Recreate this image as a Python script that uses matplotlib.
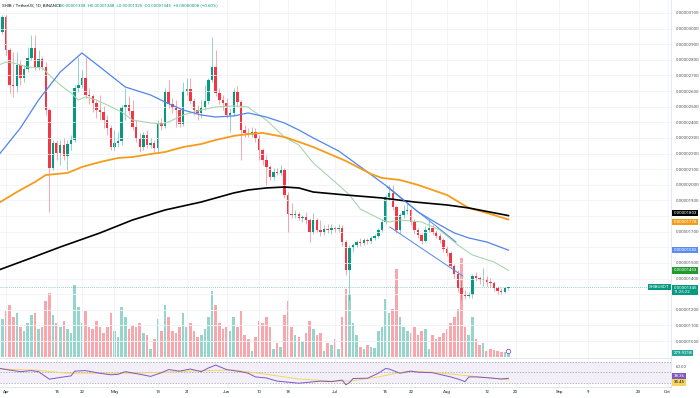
import matplotlib.pyplot as plt
import numpy as np

plt.rcParams['font.family'] = ['Roboto', 'DejaVu Sans']

# SHIB/USDT daily candles, prices in 1e-8 USDT, day 0 = 1 Apr 2024 (first candle 31 Mar)
first_open = 2978
close = [3074, 2863, 2639, 2633, 2767, 2684, 2741, 2812, 2876, 2754, 2805, 2754, 2479, 2108, 2268,
         2204, 2255, 2185, 2262, 2287, 2620, 2639, 2684, 2575, 2569, 2524, 2479, 2466, 2415, 2364,
         2242, 2268, 2281, 2498, 2511, 2473, 2370, 2300, 2242, 2319, 2255, 2268, 2236, 2396, 2377,
         2594, 2517, 2492, 2479, 2389, 2601, 2613, 2537, 2479, 2460, 2498, 2537, 2671, 2754, 2588,
         2543, 2524, 2447, 2460, 2594, 2530, 2351, 2332, 2325, 2338, 2300, 2223, 2159, 2114, 2050,
         2082, 2076, 2095, 1935, 1813, 1807, 1813, 1788, 1794, 1775, 1698, 1775, 1711, 1698, 1717,
         1711, 1724, 1717, 1724, 1634, 1455, 1596, 1615, 1634, 1628, 1647, 1641, 1660, 1673, 1711,
         1762, 1922, 1948, 1858, 1711, 1807, 1833, 1839, 1762, 1711, 1679, 1641, 1711, 1724, 1698,
         1673, 1647, 1589, 1564, 1481, 1429, 1340, 1295, 1289, 1295, 1417, 1404, 1391, 1397, 1378,
         1372, 1340, 1321, 1314, 1338, 1345]
high = [3087, 3087, 2876, 2850, 2850, 2799, 2767, 2882, 2959, 2959, 2863, 2825, 2786, 2492, 2287,
        2281, 2287, 2300, 2287, 2319, 2639, 2818, 2735, 2818, 2620, 2581, 2543, 2575, 2505, 2447,
        2383, 2351, 2338, 2511, 2620, 2569, 2543, 2415, 2332, 2338, 2351, 2300, 2287, 2415, 2428,
        2620, 2671, 2556, 2543, 2492, 2658, 2684, 2684, 2556, 2511, 2543, 2639, 2684, 2946, 2863,
        2620, 2575, 2556, 2492, 2620, 2633, 2543, 2383, 2364, 2370, 2364, 2319, 2236, 2191, 2127,
        2108, 2108, 2127, 2108, 1954, 1884, 1839, 1826, 1807, 1826, 1788, 1820, 1788, 1775, 1743,
        1749, 1749, 1737, 1749, 1743, 1647, 1615, 1628, 1647, 1660, 1660, 1660, 1673, 1685, 1724,
        1781, 1935, 1999, 1999, 1871, 1820, 1871, 1884, 1852, 1781, 1724, 1692, 1737, 1775, 1743,
        1711, 1692, 1660, 1609, 1577, 1493, 1455, 1391, 1327, 1314, 1429, 1442, 1417, 1468, 1417,
        1404, 1385, 1353, 1340, 1346, 1348]
low = [2965, 2831, 2588, 2562, 2594, 2639, 2658, 2722, 2799, 2735, 2735, 2735, 2447, 1826, 2095,
       2159, 2127, 2159, 2095, 2223, 2274, 2594, 2620, 2556, 2517, 2466, 2428, 2415, 2364, 2319,
       2223, 2223, 2242, 2255, 2415, 2447, 2351, 2274, 2210, 2223, 2236, 2236, 2210, 2204, 2351,
       2364, 2492, 2460, 2370, 2370, 2377, 2575, 2517, 2447, 2415, 2428, 2479, 2517, 2658, 2569,
       2517, 2479, 2428, 2338, 2441, 2505, 2159, 2306, 2306, 2306, 2274, 2159, 2127, 1999, 2031,
       2031, 2063, 2063, 1916, 1698, 1788, 1788, 1775, 1762, 1749, 1634, 1685, 1698, 1673, 1679,
       1692, 1685, 1698, 1698, 1609, 1423, 1263, 1570, 1602, 1609, 1615, 1621, 1628, 1647, 1660,
       1698, 1749, 1903, 1839, 1692, 1692, 1788, 1813, 1743, 1685, 1660, 1621, 1634, 1698, 1679,
       1660, 1628, 1570, 1545, 1468, 1404, 1314, 1263, 1269, 1276, 1276, 1385, 1365, 1353, 1353,
       1346, 1321, 1301, 1301, 1308, 1325]
volume = [2660, 3220, 3640, 2800, 3080, 2100, 1820, 2380, 2940, 3080, 1960, 2100, 3920, 4480, 2940,
          2380, 2100, 2520, 1960, 1680, 5040, 3500, 2380, 3220, 2100, 1960, 2520, 2100, 1680, 2100,
          3080, 1820, 1400, 3500, 2800, 1960, 2240, 2100, 2380, 1680, 1540, 560, 1260, 2660, 1820,
          3640, 2800, 1820, 1680, 2100, 3080, 2100, 2380, 1820, 1400, 1540, 1960, 2800, 4620, 3640,
          2380, 1960, 2100, 1820, 2800, 2100, 3220, 1540, 1260, 420, 1400, 2520, 2380, 2800, 2100,
          560, 980, 700, 2940, 3920, 2100, 1540, 1400, 1120, 1680, 2520, 1960, 1540, 1680, 420,
          980, 840, 1260, 560, 2800, 4760, 4340, 2380, 1540, 700, 560, 840, 700, 630, 1820,
          2100, 4060, 3080, 3360, 6160, 2800, 2100, 1820, 1680, 2100, 1540, 1820, 1960, 560, 1540,
          1260, 1400, 1680, 1960, 2380, 2800, 3360, 6930, 2100, 1540, 2800, 1260, 840, 980, 420,
          560, 490, 420, 350, 350, 279.921]  # billions

# moving averages
ma20_days = [-2, 0, 2, 6, 10, 12, 15, 18, 20, 22, 25, 28, 32, 35, 40, 43, 45, 49, 54, 58,
             63, 67, 68, 72, 77, 81, 85, 92, 95, 98, 104, 106, 109, 115, 120, 125, 129, 135, 139]
ma20 = [2767, 2786, 2780, 2754, 2748, 2703, 2639, 2588, 2543, 2562, 2543, 2511, 2466, 2415, 2396,
        2389, 2402, 2447, 2479, 2498, 2505, 2498, 2479, 2415, 2306, 2255, 2140, 1999, 1935, 1845,
        1775, 1762, 1775, 1762, 1711, 1615, 1551, 1506, 1453]
ma50_days = [-2, 4, 9, 15, 21, 26, 33, 40, 44, 49, 54, 58, 63, 67, 72, 77, 81, 85, 92, 100,
             106, 114, 120, 124, 128, 133, 139]
ma50 = [2191, 2364, 2543, 2722, 2844, 2754, 2626, 2575, 2530, 2479, 2447, 2434, 2441, 2460, 2434,
        2396, 2351, 2300, 2217, 2082, 1980, 1826, 1743, 1692, 1660, 1634, 1582]
ma100_days = [-2, 3, 8, 11, 17, 21, 26, 31, 35, 40, 44, 49, 54, 58, 63, 67, 71, 77, 81, 85,
              94, 101, 104, 109, 114, 122, 128, 133, 139]
ma100 = [1884, 1954, 2018, 2063, 2076, 2114, 2146, 2172, 2178, 2197, 2210, 2242, 2261, 2287, 2313,
         2325, 2332, 2306, 2275, 2242, 2153, 2069, 2044, 2031, 1999, 1935, 1852, 1820, 1778]
ma200_days = [-2, 7, 15, 26, 35, 44, 54, 63, 67, 72, 77, 81, 85, 94, 104, 113, 122, 128, 139]
ma200 = [1455, 1532, 1602, 1692, 1775, 1839, 1890, 1948, 1967, 1980, 1986, 1980, 1954, 1935, 1916,
         1890, 1871, 1852, 1803]

# drawn descending channel
chan_upper_days = [105.4, 124.5]
chan_upper = [1986, 1634]
chan_lower_days = [106.2, 126.4]
chan_lower = [1730, 1416]

# RSI and its moving average
rsi_days = [-2, 1, 4, 7, 9, 12, 15, 18, 19, 22, 26, 29, 31, 33, 37, 40, 43, 45, 48, 51,
            54, 56, 58, 61, 65, 67, 69, 72, 75, 78, 81, 84, 87, 90, 93, 94, 95, 96, 100, 103,
            105, 106, 109, 112, 114, 118, 123, 125, 127, 128, 130, 134, 137, 139]
rsi = [57.6, 54, 51, 53, 51, 36.7, 40, 43, 52, 53, 48, 45, 46, 51, 46, 42, 49, 55, 52, 56,
       51, 58, 63.5, 55, 51, 48, 41, 39, 33, 31, 29, 31, 33, 32, 35, 26, 30, 38, 38.5, 48,
       57, 56, 48, 52, 50, 49, 41, 37, 32, 41, 41, 39, 37, 38.36]
rsi_ma_days = [-2, 8, 17, 26, 35, 44, 54, 63, 72, 81, 90, 95, 103, 111, 118, 128, 137, 139]
rsi_ma = [56, 54, 48, 48, 48, 50, 53, 54, 46, 37, 33, 33, 41, 52, 50, 43, 37, 35.45]

tick_days = [0, 14, 21, 30, 42, 50, 61, 70, 78, 91, 105, 112, 122, 133, 141, 153, 161, 175, 183]
tick_labels = ['Apr', '15', '22', 'May', '13', '21', 'Jun', '10', '18', 'Jul', '15', '22',
               'Aug', '12', '20', 'Sep', '9', '23', 'Oct']
price_ticks = list(range(1000, 3200, 100))
hidden_ticks = [1300, 1600, 1800]  # covered by the value tags

GREEN, RED = '#089981', '#f23645'
TXT = '#131722'
GRID = '#f0f3fa'
FS = 3.2

W, H = 700, 398


def px_rect(x0, y0, x1, y1):
    return [x0 / W, 1 - y1 / H, (x1 - x0) / W, (y1 - y0) / H]


fig = plt.figure(figsize=(7, 3.98), dpi=100)
ax_vol = fig.add_axes(px_rect(0, 0, 671, 357))
ax = fig.add_axes(px_rect(0, 0, 671, 357), sharex=ax_vol)
ax.patch.set_visible(False)
ax_rsi = fig.add_axes(px_rect(0, 358, 671, 387), sharex=ax_vol)

days = np.arange(-1, len(close) - 1)
c = np.array(close, dtype=float)
o = np.array([first_open] + close[:-1], dtype=float)
up = c >= o

# volume
ax_vol.bar(days, volume, width=0.72, color=np.where(up, '#95d5cb', '#f8a8ad'), linewidth=0)
ax_vol.set_ylim(0, 357 * 70)
ax_vol.axis('off')
ax_vol.scatter([days[-1]], [volume[-1] + 150], s=10, facecolor='white', edgecolor='#7e57c2',
               linewidth=0.6, zorder=5)

# candles
ax.vlines(days, low, high, colors=np.where(up, GREEN, RED), linewidth=0.55, alpha=0.55)
ax.bar(days, np.maximum(np.abs(c - o), 4), bottom=np.minimum(o, c), width=0.68,
       color=np.where(up, GREEN, RED), linewidth=0)

ax.plot(ma20_days, ma20, color='#a9d6aa', lw=0.8)
ax.plot(ma50_days, ma50, color='#4f86ec', lw=0.9)
ax.plot(ma100_days, ma100, color='#f59c1a', lw=1.3)
ax.plot(ma200_days, ma200, color='#000000', lw=1.2)
ax.plot(chan_upper_days, chan_upper, color='#4f86ec', lw=0.7)
ax.plot(chan_lower_days, chan_lower, color='#4f86ec', lw=0.7)

ax.axhline(close[-1], color=GREEN, lw=0.6, ls=(0, (1, 1.5)), alpha=0.6)

ax.set_xlim(-1.66, 183.96)
ax.set_ylim(898, 3183)
ax.set_xticks(tick_days)
ax.set_yticks(price_ticks)
ax.set_yticklabels(['' if v in hidden_ticks else f"{v * 1e-8:.8f}" for v in price_ticks])
ax.yaxis.tick_right()
ax.tick_params(axis='y', length=0, labelsize=FS, labelcolor='#50535e', pad=3.6)
ax.tick_params(axis='x', length=0, labelbottom=False)
ax.grid(color=GRID, lw=0.6)
for side in ['left', 'top', 'bottom']:
    ax.spines[side].set_visible(False)
ax.spines['right'].set_color('#e0e3eb')
ax.spines['right'].set_linewidth(0.6)


def price_tag(axis, value, text, face, fg='white', dy=0.0):
    axis.annotate(text, xy=(1, value), xycoords=('axes fraction', 'data'),
                  xytext=(1.8, dy), textcoords='offset points', ha='left', va='center',
                  fontsize=FS, color=fg, annotation_clip=False, linespacing=1.1,
                  bbox=dict(boxstyle='square,pad=0.28', fc=face, ec='none'))


price_tag(ax, ma200[-1], f"{ma200[-1] * 1e-8:.8f}", '#000000', dy=1.7)
price_tag(ax, ma100[-1], f"{ma100[-1] * 1e-8:.8f}", '#f59c1a', dy=-1.7)
price_tag(ax, ma50[-1], f"{ma50[-1] * 1e-8:.8f}", '#5b8def')
price_tag(ax, ma20[-1], f"{ma20[-1] * 1e-8:.8f}", '#1f9a2e')
price_tag(ax, close[-1], f"{close[-1] * 1e-8:.8f}\n11:25:22", GREEN, dy=-2.0)
ax.annotate('SHIBUSDT', xy=(1, close[-1]), xycoords=('axes fraction', 'data'),
            xytext=(-1, 0), textcoords='offset points', ha='right', va='center',
            fontsize=FS, color='white', annotation_clip=False,
            bbox=dict(boxstyle='square,pad=0.28', fc=GREEN, ec='none'))
price_tag(ax_vol, volume[-1], f"{volume[-1]:.3f}B", '#26a69a')

# RSI pane
ax_rsi.axhspan(30, 70, color='#7e57c2', alpha=0.09, lw=0)
for lvl in [70, 50, 30]:
    ax_rsi.axhline(lvl, color='#9598a1', lw=0.5, ls=(0, (2, 2)))
ax_rsi.plot(rsi_ma_days, rsi_ma, color='#f6d55c', lw=0.7)
ax_rsi.plot(rsi_days, rsi, color='#7e57c2', lw=0.7)
ax_rsi.set_ylim(21.8, 77)
ax_rsi.set_xticks(tick_days)
ax_rsi.set_xticklabels(tick_labels)
ax_rsi.set_yticks([60])
ax_rsi.set_yticklabels(['60.00'])
ax_rsi.yaxis.tick_right()
ax_rsi.tick_params(axis='y', length=0, labelsize=FS, labelcolor='#50535e', pad=3.6)
ax_rsi.tick_params(axis='x', length=0, labelsize=FS, labelcolor=TXT, pad=2.2)
ax_rsi.grid(axis='x', color=GRID, lw=0.6)
ax_rsi.spines['left'].set_visible(False)
for side in ['top', 'right', 'bottom']:
    ax_rsi.spines[side].set_color('#e0e3eb')
    ax_rsi.spines[side].set_linewidth(0.6)
price_tag(ax_rsi, rsi[-1], f"{rsi[-1]:.2f}", '#7e57c2', dy=1.6)
price_tag(ax_rsi, rsi_ma[-1], f"{rsi_ma[-1]:.2f}", '#f6d55c', fg=TXT, dy=-1.8)

# header
fig.text(2 / W, 1 - 5 / H, 'SHIB / TetherUS, 1D, BINANCE', fontsize=FS, color=TXT, va='center')
fig.text(59 / W, 1 - 5 / H, 'O0.00001338  H0.00001348  L0.00001325  C0.00001345  +0.00000008 (+0.60%)',
         fontsize=FS, color=GREEN, va='center')

fig.savefig('out.png', dpi=100)
